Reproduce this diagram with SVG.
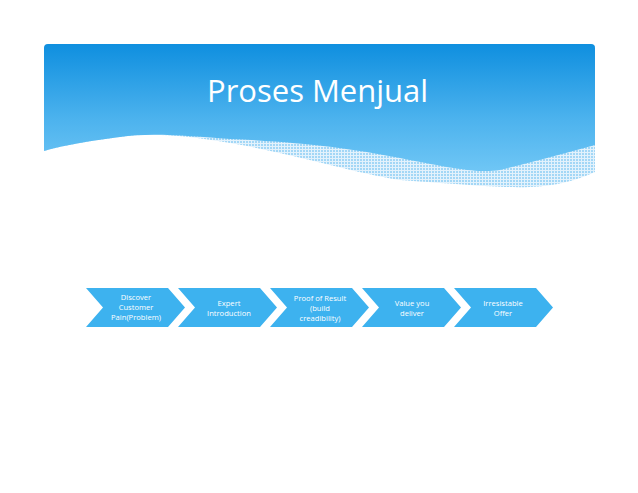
<svg xmlns="http://www.w3.org/2000/svg" width="638" height="493" viewBox="0 0 638 493">
  <style>
    .chev { fill: #3db2ef; }
    .lbl { font-family: "Open Sans", "Liberation Sans", sans-serif; font-size: 7.6px; fill: #ffffff; text-anchor: middle; }
    .title { font-family: "Open Sans", "Liberation Sans", sans-serif; font-size: 31px; fill: #ffffff; }
  </style>
  <defs>
    <linearGradient id="hdr" x1="0" y1="0" x2="0" y2="1" gradientUnits="objectBoundingBox">
      <stop offset="0" stop-color="#0f8fdf"/>
      <stop offset="0.6" stop-color="#4db3ee"/>
      <stop offset="1" stop-color="#6fc6f5"/>
    </linearGradient>
    <pattern id="mesh" width="3" height="3" patternUnits="userSpaceOnUse">
      <rect width="3" height="3" fill="#e3f2fc"/>
      <rect width="2" height="2" fill="#a3d7f6"/>
    </pattern>
  </defs>
  <rect width="638" height="493" fill="#ffffff"/>
  <g id="header">
    <path d="M44 48 Q44 44 48 44 L591 44 Q595 44 595 48 L595 172 C575 181 555 186 530 187 C500 188 470 185 400 180 C350 172 300 155 230 143 C190 136 150 132 120 137 C90 141 65 145 44 151 Z" fill="url(#mesh)"/>
    <path d="M44 48 Q44 44 48 44 L591 44 Q595 44 595 48 L595 145 C570 152 540 160 500 170 C480 173 460 170 400 158 C350 148 300 142 230 139 C190 136 150 132 120 137 C90 141 65 145 44 151 Z" fill="url(#hdr)"/>
    <text class="title" x="207" y="102">Proses Menjual</text>
  </g>
  <g id="connectors"></g>
  <g id="n1">
    <polygon class="chev" points="86,288 168,288 185,307.5 168,327 86,327 103,307.5"/>
    <text class="lbl" x="136" y="300">Discover</text>
    <text class="lbl" x="136" y="310">Customer</text>
    <text class="lbl" x="136" y="320">Pain(Problem)</text>
  </g>
  <g id="n2">
    <polygon class="chev" points="178,288 260,288 277,307.5 260,327 178,327 195,307.5"/>
    <text class="lbl" x="229" y="306">Expert</text>
    <text class="lbl" x="229" y="316">Introduction</text>
  </g>
  <g id="n3">
    <polygon class="chev" points="270,288 352,288 369,307.5 352,327 270,327 287,307.5"/>
    <text class="lbl" x="320" y="301">Proof of Result</text>
    <text class="lbl" x="320" y="311">(build</text>
    <text class="lbl" x="320" y="321">creadibility)</text>
  </g>
  <g id="n4">
    <polygon class="chev" points="362,288 444,288 461,307.5 444,327 362,327 379,307.5"/>
    <text class="lbl" x="412" y="306">Value you</text>
    <text class="lbl" x="412" y="316">deliver</text>
  </g>
  <g id="n5">
    <polygon class="chev" points="454,288 536,288 553,307.5 536,327 454,327 471,307.5"/>
    <text class="lbl" x="503" y="306">Irresistable</text>
    <text class="lbl" x="503" y="316">Offer</text>
  </g>
</svg>
